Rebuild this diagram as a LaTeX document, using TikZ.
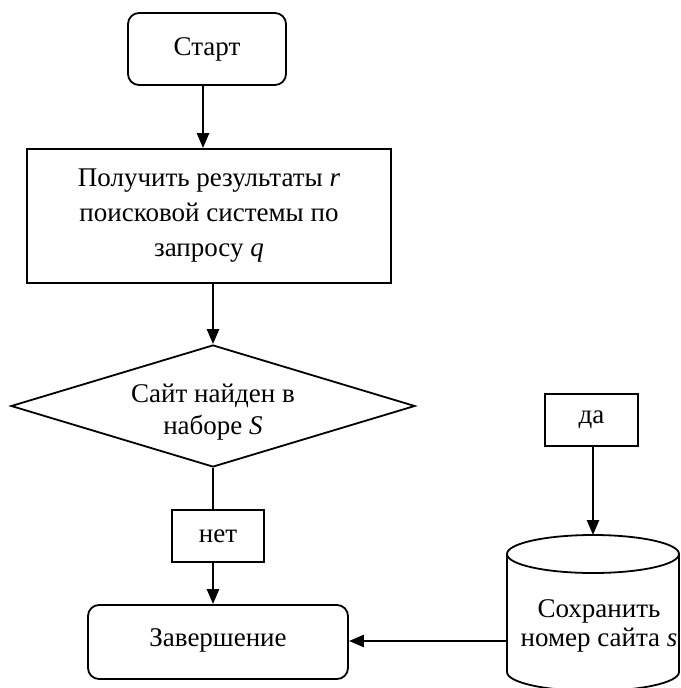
\documentclass[tikz,border=0pt]{standalone}
\usepackage{fontspec}
\setmainfont{Liberation Serif}
\usetikzlibrary{shapes.geometric,arrows.meta}
\begin{document}
\begin{tikzpicture}[x=1pt,y=-1pt,
  every node/.style={font=\fontsize{27}{35}\selectfont, inner sep=0pt},
  shp/.style={draw, line width=1.8pt},
  term/.style={shp, rounded corners=11pt},
  arr/.style={line width=2.6pt, -{Triangle[length=15pt,width=12pt]}},
  ln/.style={line width=1.8pt}]
\useasboundingbox (0,0) rectangle (680,688);
\clip (0,0) rectangle (680,688);
\node[term, minimum width=158pt, minimum height=72pt] (start) at (207,49) {Старт};
\node[shp, minimum width=364pt, minimum height=134pt, align=center] (proc) at (209,216)
  {Получить результаты \textit{r}\\поисковой системы по\\запросу \textit{q}};
\node[shp, diamond, aspect=3.3, minimum width=404pt, minimum height=122pt, align=center] (dec) at (213,406)
  {\rule{0pt}{8pt}\\[-12pt]Сайт найден в\\[-3pt]наборе \textit{S}};
\node[shp, minimum width=92pt, minimum height=52pt] (no) at (218,536) {нет};
\node[shp, minimum width=93pt, minimum height=52pt] (yes) at (591.5,420) {да};
\node[term, minimum width=260pt, minimum height=74pt] (end) at (218,642) {\raisebox{9pt}{Завершение}};
\coordinate (cylTop) at (593,535);
\coordinate (cylL) at (507,641);
\draw[ln] (593,554) ellipse [x radius=86, y radius=19];
\draw[ln] (507,554) -- (507,672) arc[start angle=180,end angle=0,x radius=86,y radius=19] -- (679,554);
\node[align=center] (cyl) at (599,626) {Сохранить\\[-6pt]номер сайта \textit{s}};
\draw[arr] ([xshift=-4pt]start.south) -- ([xshift=-4pt]start.south |- proc.north);
\draw[arr] ([xshift=4pt]proc.south) -- (dec.north);
\draw[ln] (dec.south) -- (dec.south |- no.north);
\draw[arr] (no.south -| dec.south) -- (end.north -| dec.south);
\draw[arr] (yes.south -| cylTop) -- (cylTop);
\draw[arr] (cylL) -- (end.east |- cylL);
\end{tikzpicture}
\end{document}
